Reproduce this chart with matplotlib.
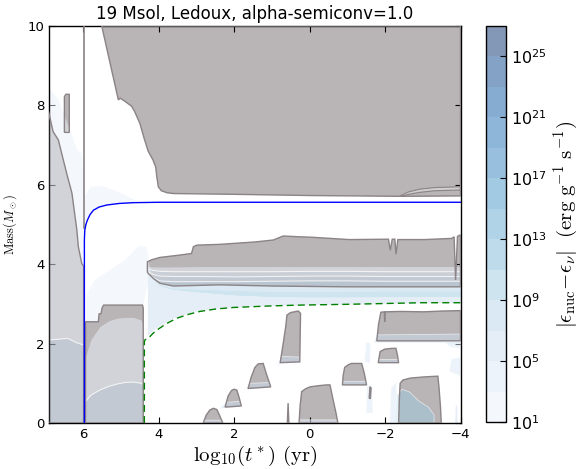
import numpy as np
import matplotlib
matplotlib.use('Agg')
import matplotlib.pyplot as plt
from matplotlib.colors import LogNorm, ListedColormap
from matplotlib.cm import ScalarMappable

# ---------------------------------------------------------------- data
title = '19 Msol, Ledoux, alpha-semiconv=1.0'
x_ticks = [6, 4, 2, 0, -2, -4]
y_ticks = [0, 2, 4, 6, 8, 10]
eps_levels = [1e1, 1e3, 1e5, 1e7, 1e9, 1e11, 1e13, 1e15, 1e17, 1e19, 1e21, 1e23, 1e25, 1e27]
cbar_ticks = [1e1, 1e5, 1e9, 1e13, 1e17, 1e21, 1e25]
cbar_ticklabels = [r'$10^{1}$', r'$10^{5}$', r'$10^{9}$', r'$10^{13}$',
                   r'$10^{17}$', r'$10^{21}$', r'$10^{25}$']

# convective zones (log10 time left, mass coordinate)
env_t = [5.51, 5.07, 5.02, 4.92, 4.72, 4.64, 4.50, 4.38, 4.28, 4.15, 4.08, 4.05, 4.01,
         3.93, 3.78, 3.61, 2.0, 0.0, -2.40, -4.0, -4.0]
env_m = [10.0, 8.14, 8.18, 8.12, 7.98, 7.85, 7.55, 7.15, 6.85, 6.62, 6.45, 6.20, 5.95,
         5.85, 5.80, 5.78, 5.76, 5.73, 5.71, 5.72, 10.0]
strip_t = [-2.40, -2.62, -2.92, -3.31, -4.0, -4.0, -3.31, -2.92, -2.62, -2.48]
strip_m = [5.72, 5.82, 5.89, 5.93, 5.95, 5.87, 5.85, 5.81, 5.76, 5.72]
surf_t = [5.99, 5.99]
surf_m = [10.0, 4.90]
blob_t = [6.50, 6.50, 6.46, 6.37, 6.37]
blob_m = [7.32, 8.22, 8.28, 8.28, 7.32]
ms_core_t = [6.92, 6.92, 6.80, 6.66, 6.44, 6.30, 6.17, 6.13, 6.04, 5.99, 5.99]
ms_core_m = [0.0, 7.85, 7.34, 7.13, 6.29, 5.79, 4.86, 4.44, 4.02, 3.95, 0.0]
hec_t = [5.94, 5.94, 5.60, 5.58, 5.53, 5.50, 5.46, 4.43, 4.41, 4.41]
hec_m = [0.00, 2.55, 2.55, 2.75, 2.75, 2.90, 2.97, 2.97, 2.90, 0.00]
sh_t = [4.30, 4.30, 4.19, 3.97, 3.44, 3.13, 3.08, 2.99, 2.38, 1.45, 0.96, 0.70, 0.26,
        -0.04, -1.05, -2.09, -2.14, -2.19, -2.26, -2.29, -2.34, -3.04, -3.77, -3.83,
        -3.87, -3.92, -4.0, -4.0, -3.0, -1.0, 1.0, 2.38, 3.61, 3.97, 4.14, 4.28]
sh_m = [3.80, 4.06, 4.11, 4.17, 4.23, 4.27, 4.44, 4.48, 4.50, 4.56, 4.61, 4.71, 4.69,
        4.68, 4.62, 4.63, 4.35, 4.63, 4.63, 4.25, 4.62, 4.62, 4.65, 4.69,
        3.60, 4.70, 4.74, 3.43, 3.43, 3.43, 3.45, 3.48, 3.45, 3.52, 3.64, 3.77]
islA_t = [2.82, 2.74, 2.64, 2.55, 2.46, 2.39, 2.30]
islA_m = [0.00, 0.20, 0.33, 0.37, 0.34, 0.20, 0.00]
islB_t = [2.24, 2.16, 2.07, 2.00, 1.93, 1.87, 1.81]
islB_m = [0.40, 0.68, 0.82, 0.85, 0.83, 0.65, 0.43]
islC_t = [1.63, 1.55, 1.45, 1.36, 1.23, 1.15, 1.03]
islC_m = [0.87, 1.15, 1.40, 1.49, 1.50, 1.25, 0.91]
islD_t = [0.78, 0.70, 0.63, 0.60, 0.51, 0.30, 0.24, 0.25, 0.26]
islD_m = [1.52, 2.00, 2.45, 2.72, 2.78, 2.82, 2.76, 2.20, 1.54]
islE_t = [0.28, 0.25, 0.21, 0.11, -0.01, -0.24, -0.45, -0.54, -0.62, -0.70, -0.75]
islE_m = [0.00, 0.45, 0.79, 0.86, 0.91, 0.94, 0.96, 0.96, 0.60, 0.25, 0.00]
spike_t = [0.59, 0.57, 0.55]
spike_m = [0.00, 0.50, 0.00]
islF_t = [-0.87, -0.89, -0.93, -1.03, -1.11, -1.38, -1.45, -1.51]
islF_m = [0.96, 1.20, 1.40, 1.47, 1.50, 1.50, 1.25, 0.96]
islG_t = [-1.82, -1.87, -1.99, -2.18, -2.29, -2.33, -2.36]
islG_m = [1.52, 1.80, 1.86, 1.88, 1.88, 1.70, 1.52]
islH_t = [-1.78, -1.83, -1.89, -1.98, -1.99, -2.00, -2.42, -3.02, -3.51, -4.0, -4.0]
islH_m = [2.07, 2.50, 2.79, 2.80, 2.55, 2.80, 2.81, 2.80, 2.82, 2.83, 2.07]
islI_t = [-2.36, -2.38, -2.40, -2.47, -2.66, -3.02, -3.40, -3.43, -3.47, -3.49]
islI_m = [0.00, 0.60, 1.00, 1.08, 1.13, 1.16, 1.18, 0.90, 0.40, 0.00]
sliver_t = [-1.58, -1.60, -1.63, -1.61]
sliver_m = [0.62, 0.91, 0.88, 0.62]

# energy generation bands (index into eps_levels bands)
ms_t = [6.92, 6.66, 6.41, 6.17, 6.04, 5.99]
ms_halo = [8.45, 8.14, 7.50, 6.88, 6.80, 6.00]
ms_wl = [2.09, 2.11, 2.13, 2.02, 1.98, 1.96]
hecb_t = [5.94, 5.80, 5.56, 5.33, 5.11, 4.90, 4.67, 4.46, 4.41]
hecb_top = [1.67, 2.10, 2.43, 2.57, 2.64, 2.66, 2.66, 2.59, 2.45]
hecb_wl = [0.54, 0.70, 0.83, 0.92, 0.98, 1.02, 1.03, 1.00, 0.97]
shb_t = [4.30, 4.14, 3.97, 3.61, 3.0, 2.0, 1.0, 0.0, -1.0, -2.0, -3.0, -4.0]
shb_top = [3.95, 3.93, 3.93, 3.93, 3.94, 3.94, 3.94, 3.94, 3.94, 3.94, 3.94, 3.94]
shb_l1 = [3.88, 3.84, 3.82, 3.81, 3.81, 3.81, 3.81, 3.82, 3.82, 3.81, 3.81, 3.81]
shb_l2 = [3.82, 3.74, 3.70, 3.69, 3.69, 3.68, 3.69, 3.70, 3.70, 3.69, 3.69, 3.69]
shb_l3 = [3.78, 3.66, 3.58, 3.56, 3.56, 3.56, 3.57, 3.58, 3.58, 3.57, 3.57, 3.57]
shb_bot = [3.77, 3.64, 3.52, 3.45, 3.47, 3.47, 3.45, 3.44, 3.43, 3.43, 3.43, 3.43]
shb_l5 = [3.76, 3.62, 3.48, 3.40, 3.38, 3.34, 3.32, 3.32, 3.32, 3.33, 3.33, 3.33]
shb_l6 = [3.75, 3.60, 3.45, 3.36, 3.30, 3.22, 3.18, 3.17, 3.17, 3.18, 3.18, 3.18]
shb_low = [2.20, 2.35, 2.45, 2.65, 2.82, 2.92, 2.96, 2.98, 2.99, 3.01, 3.03, 3.03]
fan_t = [5.93, 5.93, 5.70, 5.30, 4.90, 4.55, 4.32, 4.22, 4.38, 4.41, 5.46, 5.50, 5.58, 5.60, 5.93]
fan_m = [2.55, 3.20, 3.60, 3.85, 4.10, 4.45, 4.45, 3.80, 3.10, 2.97, 2.97, 2.90, 2.75, 2.55, 2.55]
bump_t = [5.97, 5.95, 5.80, 5.50, 5.00, 4.60, 4.67, 5.38, 5.73, 5.89, 5.96]
bump_m = [5.00, 5.70, 5.95, 5.97, 5.80, 5.60, 5.55, 5.49, 5.36, 5.11, 4.85]
patches_band = [2, 2, 2, 2, 1, 2, 2, 2, 1, 4, 1, 1, 1, 1, 2]
patches_t = [[2.80, 2.78, 2.34, 2.31],
             [2.38, 2.22, 1.83, 1.81, 2.24],
             [1.70, 1.61, 1.05, 1.03, 1.60],
             [0.86, 0.76, 0.26, 0.26, 0.76],
             [0.28, 0.27, -0.74, -0.75],
             [-0.85, -0.87, -1.50, -1.51],
             [-1.78, -1.83, -2.35, -2.37],
             [-1.70, -1.78, -4.0, -4.0],
             [-3.55, -4.0, -4.0, -3.75],
             [-2.30, -2.32, -2.45, -2.65, -2.90, -3.15, -3.30, -3.30],
             [-2.12, -2.16, -2.30, -2.34],
             [-1.50, -1.52, -1.66, -1.68],
             [-1.45, -1.50, -1.62, -1.60],
             [-3.70, -3.76, -4.0, -4.0],
             [-3.85, -3.87, -3.92, -3.93]]
patches_m = [[0.00, 0.07, 0.07, 0.00],
             [0.36, 0.52, 0.55, 0.41, 0.38],
             [0.84, 1.00, 1.02, 0.89, 0.86],
             [1.42, 1.68, 1.66, 1.52, 1.50],
             [0.00, 0.08, 0.08, 0.00],
             [0.94, 1.05, 1.05, 0.94],
             [1.50, 1.60, 1.60, 1.50],
             [2.02, 2.22, 2.24, 2.02],
             [2.05, 2.05, 1.88, 1.90],
             [0.00, 0.70, 0.85, 0.78, 0.55, 0.40, 0.20, 0.00],
             [0.00, 0.90, 1.02, 0.00],
             [0.25, 0.95, 0.95, 0.25],
             [1.55, 2.05, 2.00, 1.50],
             [1.30, 1.62, 1.66, 1.18],
             [0.00, 0.45, 0.45, 0.00]]

# core boundaries
he_core_t = [5.97, 5.97, 5.96, 5.93, 5.89, 5.82, 5.73, 5.58, 5.38, 5.05, 4.67, 4.0, 2.0, 0.0, -2.0, -4.0]
he_core_m = [0.00, 4.60, 4.85, 5.00, 5.11, 5.25, 5.36, 5.44, 5.49, 5.53, 5.55, 5.56, 5.56, 5.56, 5.56, 5.56]
co_core_t = [4.38, 4.38, 4.36, 4.28, 4.16, 4.05, 3.80, 3.52, 3.20, 2.91, 2.50, 2.02, 1.0, 0.26,
             -1.0, -2.0, -3.0, -4.0]
co_core_m = [0.00, 2.05, 2.10, 2.13, 2.25, 2.34, 2.50, 2.64, 2.74, 2.81, 2.87, 2.91, 2.95, 2.97,
             2.99, 3.01, 3.03, 3.03]

# ---------------------------------------------------------------- styling
W, H = 583, 469
fig = plt.figure(figsize=(W / 100, H / 100), dpi=100)
ax = fig.add_axes([49.3 / W, 46 / H, 411.2 / W, 397 / H])
cax = fig.add_axes([485.7 / W, 47 / H, 20 / W, 396 / H])

norm = LogNorm(vmin=eps_levels[0], vmax=eps_levels[-1])
blues = plt.get_cmap('Blues')
band_rgba = []
for lo, hi in zip(eps_levels[:-1], eps_levels[1:]):
    r, g, b, _ = blues(norm(0.5 * (lo + hi)))
    band_rgba.append((r, g, b, 0.5))
band_cmap = ListedColormap(band_rgba)

conv_color = '#8B8386'
conv_polys = [(env_t, env_m), (blob_t, blob_m), (ms_core_t, ms_core_m), (hec_t, hec_m),
              (sh_t, sh_m), (islA_t, islA_m), (islB_t, islB_m), (islC_t, islC_m),
              (islD_t, islD_m), (islE_t, islE_m), (spike_t, spike_m), (islF_t, islF_m),
              (islG_t, islG_m), (islH_t, islH_m), (islI_t, islI_m), (sliver_t, sliver_m)]

for t, m in conv_polys:
    ax.fill(t, m, color=conv_color, alpha=0.6, lw=0, zorder=1)
ax.fill(strip_t, strip_m, color='#d2cdce', lw=0, zorder=1.1)

def band(k):
    return band_rgba[k]

# energy bands
ax.fill_between(ms_t, ms_wl, ms_halo, color=band(0), lw=0, zorder=2)
ax.fill_between(ms_t, 0, ms_wl, color=band(2), lw=0, zorder=2)
ax.fill_between(hecb_t, hecb_wl, hecb_top, color=band(0), lw=0, zorder=2)
ax.fill_between(hecb_t, 0, hecb_wl, color=band(2), lw=0, zorder=2)
ax.fill_between(shb_t, shb_l1, shb_top, color=band(0), lw=0, zorder=2)
ax.fill_between(shb_t, shb_l2, shb_l1, color=band(1), lw=0, zorder=2)
ax.fill_between(shb_t, shb_l3, shb_l2, color=band(2), lw=0, zorder=2)
ax.fill_between(shb_t, shb_bot, shb_l3, color=band(3), lw=0, zorder=2)
ax.fill_between(shb_t, shb_l5, shb_bot, color=band(3), lw=0, zorder=2)
ax.fill_between(shb_t, shb_l6, shb_l5, color=band(4), lw=0, zorder=2)
ax.fill_between(shb_t, shb_low, shb_l6, color=band(2), lw=0, zorder=2)
ax.fill(fan_t, fan_m, color=band(0), lw=0, zorder=2)
ax.fill(bump_t, bump_m, color=band(0), lw=0, zorder=2)
for k, t, m in zip(patches_band, patches_t, patches_m):
    ax.fill(t, m, facecolor=band(k), edgecolor=(1, 1, 1, 0.6), lw=0.6, zorder=2)

# seams between energy bands
seam = dict(color='white', lw=0.8, alpha=0.75, zorder=2.5)
ax.plot(ms_t, ms_wl, **seam)
ax.plot(hecb_t, hecb_wl, **seam)
for yb in (shb_l1, shb_l2, shb_l3):
    ax.plot(shb_t, yb, **seam)

# convective boundaries
for t, m in conv_polys:
    ax.fill(t, m, facecolor='none', edgecolor=conv_color, lw=1.0, zorder=3)
ax.fill(strip_t, strip_m, facecolor='none', edgecolor=conv_color, lw=0.8, zorder=3)
ax.plot(surf_t, surf_m, color=conv_color, lw=1.2, zorder=3)

# core masses
ax.plot(he_core_t, he_core_m, color='b', lw=1.0, zorder=4)
ax.plot(co_core_t, co_core_m, color='g', lw=1.0, ls=(0, (5, 3)), zorder=4)

ax.set_xlim(6.9, -4.0)
ax.set_ylim(0, 10)
ax.set_xticks(x_ticks)
ax.set_yticks(y_ticks)
ax.tick_params(direction='in', top=True, right=True, length=4, width=0.8, labelsize=9.5)
for s in ax.spines.values():
    s.set_linewidth(1.0)
ax.set_title(title, fontsize=12, pad=5)
ax.set_xlabel(r'$\mathrm{log}_{10}(t^*)\ (\mathrm{yr})$', fontsize=15, math_fontfamily='cm',
              labelpad=2)
ax.set_ylabel(r'$\mathrm{Mass}(M_\odot)$', fontsize=9, math_fontfamily='cm', labelpad=6)

sm = ScalarMappable(norm=norm, cmap=band_cmap)
cb = fig.colorbar(sm, cax=cax)
cb.set_ticks(cbar_ticks)
cb.set_ticklabels(cbar_ticklabels)
cb.ax.minorticks_off()
cb.ax.tick_params(direction='in', length=4, labelsize=11.5)
cb.outline.set_linewidth(1.0)
cb.set_label(r'$|\epsilon_{\rm nuc}\!-\!\epsilon_{\nu}|\ \ (\mathrm{erg\ g^{-1}\ s^{-1}})$',
             fontsize=15, math_fontfamily='cm', labelpad=4)

fig.savefig('out.png', dpi=100)
